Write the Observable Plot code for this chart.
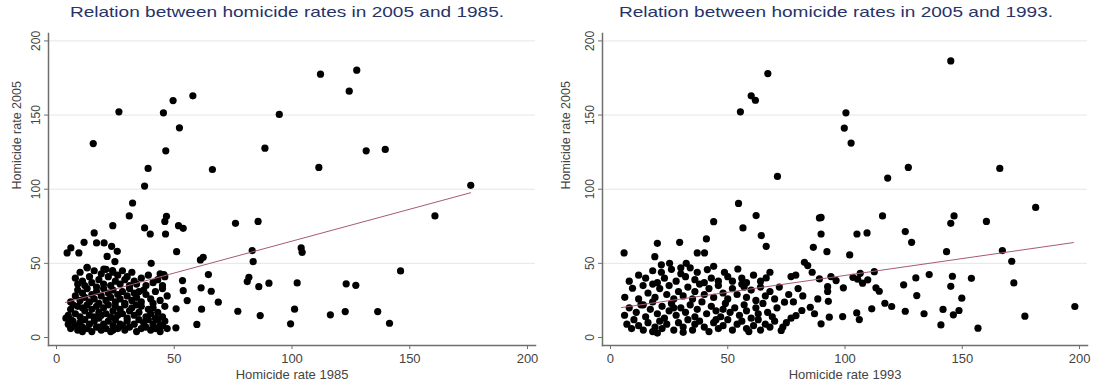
<!DOCTYPE html>
<html><head><meta charset="utf-8">
<script src="https://cdn.jsdelivr.net/npm/d3@7"></script>
<script src="https://cdn.jsdelivr.net/npm/@observablehq/plot@0.6"></script>
<style>
html,body{margin:0;padding:0;background:#fff;}
body{width:1097px;height:385px;overflow:hidden;position:relative;font-family:"Liberation Sans",Arial,sans-serif;}
.title{position:absolute;top:3px;width:600px;text-align:center;color:#26336a;font-size:15px;white-space:nowrap;transform:scaleX(1.27);transform-origin:center;}
.panel{position:absolute;top:0;}
</style></head><body>
<div class="title" id="t1"></div>
<div class="title" id="t2"></div>
<div class="panel" id="p1"></div>
<div class="panel" id="p2"></div>
<script>
// ---- data: [homicide rate in earlier year, homicide rate 2005]
const titles = ["Relation between homicide rates in 2005 and 1985.", "Relation between homicide rates in 2005 and 1993."];
const xLabels = ["Homicide rate 1985", "Homicide rate 1993"];
const yLabel = "Homicide rate 2005";
const xTicks = [0, 50, 100, 150, 200];
const yTicks = [0, 50, 100, 150, 200];

const pairs1985 = [
 [15.6,130.8],[26.5,152.2],[45.4,151.5],[49.5,159.8],[57.9,163],[52.2,141.4],[46.4,125.9],[38.9,114],[66.2,113.3],[37.4,102.1],[32.3,90.7],[88.5,127.7],[94.6,150.4],[112.1,177.6],[127.5,180.3],[124.3,166.1],[131.5,125.9],[139.6,126.8],[111.4,114.7],[175.9,102.6],
 [30.9,82],[23.9,75.4],[46.7,81.7],[46,78.3],[46.3,69.8],[37.4,73.9],[39.8,69.8],[51.8,75.4],[53.8,73.6],[51,57.9],[16,70.5],[11.7,64.2],[17,63.8],[20.2,63.8],[6.1,60.4],[4.5,57],[9.5,57],[23.4,61.5],[25.8,58.1],[21.5,54.7],[24.8,51.2],[40.2,50],[13,47.3],[20.1,46.2],[23.8,45.1],[45.6,42.4],
 [62.3,54.1],[61.1,52.3],[64.5,42.4],[53.5,38.4],[61.4,33.5],[53.8,31.6],[65.7,31.2],[55.5,24.9],[68.7,23.8],[50.8,19.3],[61.6,19.1],[50.7,6.5],[59.6,8.8],[76,77],[85.6,78.3],[83.1,58.6],[83.5,51.2],[81.7,40.6],[81,37.7],[85.9,34.3],[90.2,36.6],[77,17.7],[86.5,14.8],
 [160.7,82],[103.9,60.4],[104.3,57.4],[102.2,36.8],[123,36.2],[127.1,35.2],[146.1,44.9],[101.1,19.1],[99.4,9.2],[116.3,15.3],[122.6,17.5],[136.4,17.5],[141.4,9.6],
 [4,13],[5,9],[6,6],[7,11],[8,8],[9,5],[10,10],[11,7],[12,12],[13,6],[14,9],[15,4],[16,11],[17,7],[18,13],[19,5],[20,9],[21,6],[22,11],[23,4],[24,8],[25,12],[26,6],[27,9],[29,5],[30,11],[31,7],[33,9],[34,4],[36,6],[37,10],[38,7],[40,5],[41,9],[42,6],[43,12],[44,4],[45,8],[46,11],[47,6],[39,12],[35,12],[28,8],[6,12],[11,4],[18,7],[24,5],[44,8],
 [5,15],[6,19],[8,16],[9,21],[10,14],[12,18],[13,22],[14,15],[15,19],[16,14],[17,21],[18,17],[19,15],[20,20],[21,16],[22,22],[23,14],[24,18],[25,21],[26,15],[27,19],[28,16],[29,22],[30,13],[31,18],[32,20],[33,15],[35,17],[36,21],[38,14],[40,16],[41,20],[43,17],[45,14],[46,21],[11,20],[7,22],[34,22],[42,13],[39,19],
 [6,24],[8,28],[9,32],[10,25],[11,30],[12,27],[13,33],[14,24],[15,29],[16,26],[17,31],[18,23],[19,28],[20,33],[21,25],[22,30],[23,27],[24,32],[25,24],[26,29],[27,26],[28,31],[29,23],[30,28],[31,33],[32,25],[33,30],[34,27],[36,24],[37,32],[38,29],[40,26],[42,31],[44,25],[45,33],[47,28],[35,31],[41,23],
 [8,40],[9,36],[10,44],[11,38],[12,35],[13,47],[14,41],[15,37],[16,45],[17,34],[18,39],[19,43],[20,36],[21,46],[22,41],[23,35],[24,44],[25,38],[26,42],[27,36],[28,45],[29,39],[30,41],[31,35],[32,44],[33,38],[34,36],[36,40],[38,35],[39,42],[41,37],[43,39],[45,35],[46,41],[44,43]
];

const pairs1993 = [
 [55.4,152.2],[60,163],[61.8,160],[67.1,178],[71.2,108.6],[54.6,90.4],[145.1,186.5],[100.4,151.5],[99.7,141.2],[102.6,131.1],[118.2,107.5],[127,114.7],[166,114],[181.3,87.7],
 [116,82],[146.5,82],[145.1,77],[160.3,78.3],[89.8,81],[89.8,69.8],[105.1,69.8],[109.4,70.5],[125.7,71.4],[128.4,64.2],[92.3,57.9],[102,55.7],[143.3,57.9],[167.1,58.6],[171.1,51.4],[112.5,44.4],[106.5,43.3],[103.4,40.6],[105.4,39.3],[107.5,36.6],[109.7,38.9],[94,41.1],[96.2,38.4],[92.6,34.3],[92.6,31],[99.3,33.5],[113.2,33.5],[114.6,31.2],[130.2,40.2],[135.9,42.4],[145.8,41.3],[153.9,39.9],[125,35.5],[145.1,34.5],[172,36.8],[92.9,24.4],[130.6,28.3],[149.8,26.5],[117,23.1],[119.9,20.9],[111.4,19.3],[125.7,17.7],[133.7,16],[141.8,18.9],[148.6,18.2],[146.2,15.3],[93.3,13.7],[99,14.1],[105,16.6],[106.1,12.1],[89.8,9.2],[140.9,8.5],[156.7,6.3],[176.7,14.4],[198,20.9],
 [5.8,57],[18.9,54.5],[20,63.5],[21.7,49],[29.5,64.2],[37,57],[40.1,57],[40.9,66.5],[44,78.1],[56.5,73.9],[62.1,82.2],[64.3,68.7],[66.4,61.5],[89.1,80.6],[86.5,60.8],
 [7,9],[9,6],[10,12],[12,8],[14,5],[16,10],[18,4],[19,7],[21,11],[22,6],[24,9],[27,5],[29,10],[31,7],[33,12],[35,5],[36,9],[38,11],[40,7],[42,4],[44,10],[46,6],[48,8],[50,12],[52,5],[54,9],[56,11],[58,6],[59,4],[61,8],[63,12],[64,5],[66,9],[68,7],[70,11],[72.8,4.7],[73.5,7],[75,10],[77,13],[45,12],[31,3.5],[20,3],
 [6,15],[8,20],[11,17],[13,22],[15,14],[17,19],[18,24],[20,16],[22,21],[23,13],[25,18],[26,23],[28,15],[30,20],[32,17],[34,22],[36,14],[37,19],[39,24],[41,16],[43,21],[45,18],[47,14],[49,23],[51,17],[53,20],[55,15],[57,22],[58,18],[60,13],[62,20],[63,16],[65,23],[67,17],[69,14],[71,20],[74.2,23.8],[79.1,14.8],[81.6,18.2],[85.2,20.4],[87,16],[14,22],[27,20],[48,19],
 [6.1,27.1],[9.4,33.2],[13.9,35],[12,26],[16,30],[19,27],[21,33],[24,29],[25,35],[27,26],[29,31],[31,28],[33,34],[35,26],[36,31],[38,36],[40,29],[42,33],[44,27],[46,35],[48,30],[50,26],[52,33],[54,29],[56,36],[58,27],[60,32],[62,25],[64,34],[66,28],[68,31],[70,26],[72,34],[76,29],[78,24],[88.4,26],[18,36],[57,34],[82,28],[80,33],
 [8,38],[12,42],[15,40],[18,45],[20,37],[21.7,44],[23,40],[25.2,50],[26,46],[28,38],[30,43],[32.3,50],[32,41],[34,47],[36,39],[37,44],[40,37],[41.3,45.8],[43,40],[46,38],[48.6,44],[50,41],[52,38],[54.3,46.2],[56,40],[58,37],[61,42],[64,38],[66.4,40.2],[68,44],[77,41.1],[79,42],[82.7,50.7],[84.1,48.5],[89.1,39.5],[86,44],[30,47],[44,48]
];

// fitted lines (endpoints)
const fit1985 = [[3.8,23.6],[175.8,97.6]];
const fit1993 = [[4.7,20.2],[197.4,64]];

function panel(pairs, fit, xLabel, mLeft, mRight, yTitleDx) {
  return Plot.plot({
    width: 548, height: 385,
    marginLeft: mLeft, marginRight: mRight, marginTop: 33, marginBottom: 40,
    x: {domain: [-3.4, 203.4]},
    y: {domain: [-5.4, 205]},
    style: {fontFamily: "'Liberation Sans', Arial, sans-serif", background: "transparent", color: "#444", overflow: "visible"},
    marks: [
      Plot.gridY(yTicks.slice(1), {stroke: "#e2e6ea", strokeOpacity: 1}),
      Plot.frame({anchor: "left", stroke: "#6f6f6f", strokeWidth: 1.5}),
      Plot.frame({anchor: "bottom", stroke: "#6f6f6f", strokeWidth: 1.5}),
      Plot.axisY(yTicks, {tickRotate: -90, tickSize: 4, tickPadding: 5, fontSize: 12, label: null, stroke: "#6f6f6f", fill: "#444"}),
      Plot.axisX(xTicks, {tickSize: 4, tickPadding: 4, fontSize: 13, label: null, stroke: "#6f6f6f", fill: "#444"}),
      Plot.text([yLabel], {frameAnchor: "left", dx: yTitleDx, rotate: -90, fontSize: 12.5, fill: "#444"}),
      Plot.text([xLabel], {frameAnchor: "bottom", dy: 33, fontSize: 13, fill: "#444"}),
      Plot.dot(pairs, {x: d => d[0], y: d => d[1], r: 3.6, fill: "black", stroke: "none"}),
      Plot.line(fit, {x: d => d[0], y: d => d[1], stroke: "#a85b6c", strokeWidth: 1})
    ]
  });
}

const t1 = document.getElementById("t1"), t2 = document.getElementById("t2");
t1.textContent = titles[0]; t1.style.left = (287 - 300) + "px";
t2.textContent = titles[1]; t2.style.left = (836 - 300) + "px";
const p1 = document.getElementById("p1"), p2 = document.getElementById("p2");
p1.style.left = "0px"; p2.style.left = "549px";
p1.appendChild(panel(pairs1985, fit1985, xLabels[0], 48, 13, -32));
p2.appendChild(panel(pairs1993, fit1993, xLabels[1], 53, 10, -37));
</script>
</body></html>
